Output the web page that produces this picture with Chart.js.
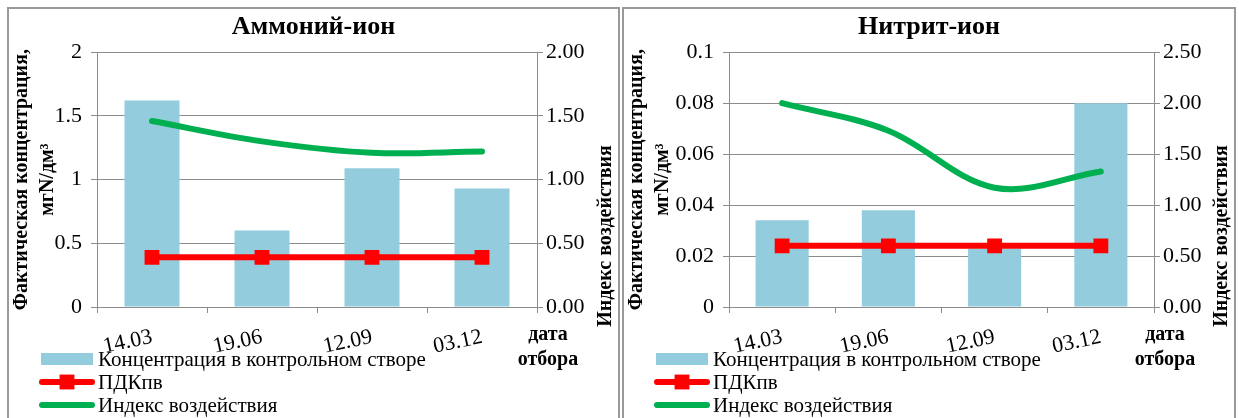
<!DOCTYPE html>
<html lang="ru">
<head>
<meta charset="UTF-8">
<title>Аммоний-ион и нитрит-ион</title>
<script src="https://cdn.jsdelivr.net/npm/chart.js"></script>
<style>
    body { margin: 0; background: #fff; width: 1239px; height: 418px; overflow: hidden; position: relative; }
    /* рамки двух диаграмм */
    .panel { position: absolute; top: 7px; height: 430px; border: 2px solid #999; background: #fff; }
    .panel canvas { display: block; }
    #panel1 { left: 7px; width: 609px; }
    #panel2 { left: 622px; width: 610px; }
</style>
</head>
<body>

<div class="panel" id="panel1"><canvas id="chartAmmonium" width="609" height="409"></canvas></div>
<div class="panel" id="panel2"><canvas id="chartNitrite" width="610" height="409"></canvas></div>

<script>
// даты отбора проб
const dates = ['14.03', '19.06', '12.09', '03.12'];

// Аммоний-ион
const ammoniumConc = [1.62, 0.60, 1.09, 0.93];
const ammoniumPdk = [0.39, 0.39, 0.39, 0.39];
const ammoniumIndex = [1.46, 1.30, 1.21, 1.22];

// Нитрит-ион
const nitriteConc = [0.034, 0.038, 0.023, 0.080];
const nitritePdk = [0.024, 0.024, 0.024, 0.024];
const nitriteIndex = [2.00, 1.73, 1.17, 1.33];

const seriesNames = ['Концентрация в контрольном створе', 'ПДКпв', 'Индекс воздействия'];
const leftAxisTitle = ['Фактическая концентрация,', 'мгN/дм³'];
const rightAxisTitle = 'Индекс воздействия';
const xAxisTitle = ['дата', 'отбора'];

const serif = '"Liberation Serif", "Times New Roman", serif';
const grey = '#8c8c8c';

Chart.defaults.font.family = serif;
Chart.defaults.color = '#000';

// подписи правой оси, оси X и легенда рисуются вручную
const extras = {
    id: 'extras',
    afterDraw(chart) {
        const { ctx, chartArea } = chart;
        ctx.save();
        ctx.fillStyle = '#000';
        ctx.font = 'bold 20px ' + serif;
        ctx.textAlign = 'center';
        ctx.textBaseline = 'middle';

        ctx.save();
        ctx.translate(chart.width - 12, chartArea.bottom - 71);
        ctx.rotate(-Math.PI / 2);
        ctx.fillText(rightAxisTitle, 0, 0);
        ctx.restore();

        xAxisTitle.forEach((t, i) => {
            ctx.fillText(t, chartArea.right + 11, chartArea.bottom + 28 + i * 25);
        });

        // легенда
        ctx.font = '21px ' + serif;
        ctx.textAlign = 'left';
        chart.data.datasets.forEach((ds, i) => {
            const y = chartArea.bottom + 52 + i * 23;
            if (ds.type === 'bar') {
                ctx.fillStyle = ds.backgroundColor;
                ctx.fillRect(32, y - 6, 52, 12);
            } else {
                ctx.strokeStyle = ds.borderColor;
                ctx.lineWidth = ds.borderWidth;
                ctx.lineCap = 'round';
                ctx.beginPath();
                ctx.moveTo(33, y);
                ctx.lineTo(83, y);
                ctx.stroke();
                if (ds.pointRadius) {
                    const side = ds.pointRadius * Math.SQRT2;
                    ctx.fillStyle = ds.borderColor;
                    ctx.fillRect(58 - side / 2, y - side / 2, side, side);
                }
            }
            ctx.fillStyle = '#000';
            ctx.fillText(ds.label, 89, y + 1);
        });
        ctx.restore();
    }
};

function buildChart(id, title, conc, pdk, index, leftMax, leftStep, rightMax, leftWidth, rightWidth) {
    return new Chart(document.getElementById(id), {
        type: 'bar',
        data: {
            labels: dates,
            datasets: [
                {
                    type: 'bar',
                    label: seriesNames[0],
                    data: conc,
                    backgroundColor: '#93CDDD',
                    categoryPercentage: 0.5,
                    barPercentage: 1,
                    yAxisID: 'y',
                    order: 3
                },
                {
                    type: 'line',
                    label: seriesNames[1],
                    data: pdk,
                    borderColor: '#FF0000',
                    backgroundColor: '#FF0000',
                    borderWidth: 6,
                    pointStyle: 'rect',
                    pointRadius: 10.5,
                    pointBorderWidth: 0,
                    yAxisID: 'y',
                    order: 2
                },
                {
                    type: 'line',
                    label: seriesNames[2],
                    data: index,
                    borderColor: '#00B050',
                    borderWidth: 6,
                    borderCapStyle: 'round',
                    pointRadius: 0,
                    tension: 0.35,
                    yAxisID: 'y1',
                    order: 1
                }
            ]
        },
        options: {
            responsive: false,
            animation: false,
            devicePixelRatio: 1,
            layout: { padding: 0 },
            plugins: {
                title: {
                    display: true,
                    text: title,
                    color: '#000',
                    font: { size: 26, weight: 'bold' },
                    padding: { top: 3, bottom: 9 }
                },
                legend: { display: false },
                tooltip: { enabled: false }
            },
            scales: {
                x: {
                    offset: true,
                    grid: { offset: true, drawOnChartArea: false, color: grey, tickLength: 6 },
                    border: { color: grey },
                    ticks: { font: { size: 22 }, minRotation: 12, maxRotation: 12, padding: 11, autoSkip: false },
                    afterFit: s => { s.height = 111; }
                },
                y: {
                    position: 'left',
                    min: 0,
                    max: leftMax,
                    grid: { color: grey, tickLength: 6 },
                    border: { color: grey },
                    ticks: {
                        stepSize: leftStep,
                        padding: 9,
                        font: { size: 22 },
                        callback: v => String(Number(v.toFixed(3)))
                    },
                    title: {
                        display: true,
                        text: leftAxisTitle,
                        font: { size: 20, weight: 'bold', lineHeight: 1.3 },
                        padding: { top: 0, bottom: 0 }
                    },
                    afterFit: s => { s.width = leftWidth; }
                },
                y1: {
                    position: 'right',
                    min: 0,
                    max: rightMax,
                    grid: { drawOnChartArea: false, color: grey, tickLength: 6 },
                    border: { color: grey },
                    ticks: {
                        stepSize: 0.5,
                        padding: 3,
                        font: { size: 22 },
                        callback: v => v.toFixed(2)
                    },
                    afterFit: s => { s.width = rightWidth; }
                }
            }
        },
        plugins: [extras]
    });
}

buildChart('chartAmmonium', 'Аммоний-ион', ammoniumConc, ammoniumPdk, ammoniumIndex, 2, 0.5, 2, 88, 81);
buildChart('chartNitrite', 'Нитрит-ион', nitriteConc, nitritePdk, nitriteIndex, 0.1, 0.02, 2.5, 105, 80);
</script>
</body>
</html>
